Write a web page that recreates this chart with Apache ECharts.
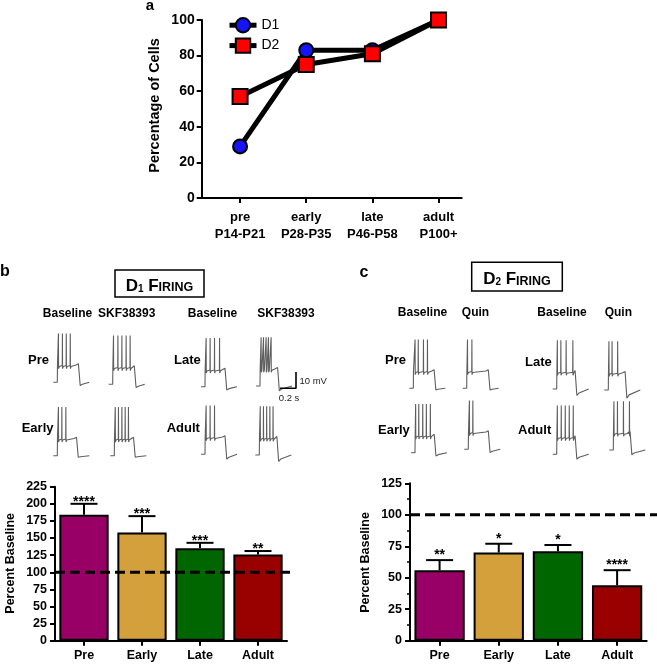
<!DOCTYPE html>
<html><head><meta charset="utf-8">
<script src="https://cdn.jsdelivr.net/npm/echarts@6/dist/echarts.min.js"></script>
<style>html,body{margin:0;padding:0;background:#fff}#c{width:657px;height:664px}</style>
</head><body><div id="c"></div>
<script>
const FONT = '"Liberation Sans", Arial, Helvetica, sans-serif';

// ---------- Panel a data ----------
const ageGroups = ['pre', 'early', 'late', 'adult'];
const ageRanges = ['P14-P21', 'P28-P35', 'P46-P58', 'P100+'];
const ageX = [1, 2, 3, 4];
const d1Percent = [29, 83, 83, 100];
const d2Percent = [57, 75, 81, 100];

// ---------- Panels b / c bar data ----------
const barCategories = ['Pre', 'Early', 'Late', 'Adult'];
const barColors = ['#990066', '#D4A03C', '#006600', '#990000'];
const d1FiringMean = [184, 158, 135, 126];
const d1FiringErrTop = [200, 182, 143, 131];
const d1Stars = ['****', '***', '***', '**'];
const d2FiringMean = [56, 70, 71, 44];
const d2FiringErrTop = [64, 77, 76, 56];
const d2Stars = ['**', '*', '*', '****'];
const baselineLevel = 100;

// ---------- Example traces (spike times in s after current onset) ----------
// D1 order: Pre Baseline, Pre SKF38393, Late Baseline, Late SKF38393, Early Baseline, Early SKF38393, Adult Baseline, Adult SKF38393
const d1SpikeTimes = [
  [0.012, 0.062, 0.11, 0.16],
  [0.008, 0.063, 0.113, 0.166, 0.216],
  [0.012, 0.062, 0.117, 0.18],
  [0.012, 0.042, 0.075, 0.104, 0.137],
  [0.012, 0.055, 0.105],
  [0.01, 0.05, 0.093, 0.134, 0.175],
  [0.012, 0.062, 0.117],
  [0.01, 0.05, 0.09, 0.13, 0.17]
];
const d1StepDur = [0.284, 0.29, 0.27, 0.24, 0.26, 0.26, 0.27, 0.24];
const d1Undershoot = [2, 2, 2, 3, 1, 1, 3, 4];
// D2 order: Pre Baseline, Pre Quin, Late Baseline, Late Quin, Early Baseline, Early Quin, Adult Baseline, Adult Quin
const d2SpikeTimes = [
  [0.02, 0.06, 0.125, 0.175],
  [0.008, 0.063],
  [0.006, 0.05, 0.116, 0.2],
  [0.006, 0.045, 0.115],
  [0.006, 0.045, 0.095, 0.14, 0.19],
  [0.012, 0.055],
  [0.006, 0.055, 0.105, 0.155, 0.205],
  [0.006, 0.05, 0.125, 0.2]
];
const d2StepDur = [0.28, 0.29, 0.25, 0.23, 0.26, 0.27, 0.25, 0.23];
const d2Undershoot = [1, 1, 4, 5, 2, 2, 3, 3];
const scaleBarTime = 0.2;   // s
const scaleBarVolt = 10;    // mV

// ---------- layout (pixels) ----------
const d1Slots = [[57.3,382.3],[112.7,384.3],[205,386.7],[260,386],[57.3,455.7],[114.3,455.7],[205,454.3],[259.3,455]];
const d2Slots = [[413.3,388.3],[466.7,388.3],[556.7,389],[608.3,390],[415,452.7],[468.3,449.3],[556.7,454.3],[613.3,450]];
const PX_PER_S = 80, PX_PER_MV = 1.625;

function buildTrace(spikes, dur, under) {
  const rest = -80, plat = -70, peak = -50, on = 0.05;
  const pts = [[0, rest], [on, rest], [on + 0.002, plat]];
  spikes.forEach(s => {
    const t = on + s;
    pts.push([t, plat + 0.3], [t + 0.002, peak], [t + 0.004, plat - 1.6], [t + 0.012, plat - 0.3]);
  });
  pts.push([on + dur - 0.05, plat + 0.6], [on + dur - 0.02, plat + 1.4], [on + dur - 0.002, plat + 0.8],
           [on + dur + 0.002, rest - under], [on + dur + 0.03, rest - under * 0.6], [0.45, rest]);
  return pts;
}

const grids = [], xAxes = [], yAxes = [], series = [];
function addGrid(g, xa, ya) {
  grids.push(Object.assign({ outerBoundsMode: 'none', containLabel: false }, g));
  const gi = grids.length - 1;
  xAxes.push(Object.assign({ gridIndex: gi }, xa));
  yAxes.push(Object.assign({ gridIndex: gi }, ya));
  return gi;
}
const axisLineS = { show: true, lineStyle: { color: '#000', width: 2 } };
const tickS = { show: true, length: 5, inside: false, lineStyle: { color: '#000', width: 2 } };

// ---- Panel a ----
const ga = addGrid({ left: 201.7, top: 20, width: 260, height: 178 },
  { type: 'value', min: 0.42, max: 4.35, axisLine: axisLineS, splitLine: { show: false },
    axisTick: Object.assign({ customValues: ageX }, tickS),
    axisLabel: { customValues: ageX, margin: 11, color: '#000',
      formatter: v => '{n|' + ageGroups[Math.round(v) - 1] + '}\n{n|' + ageRanges[Math.round(v) - 1] + '}',
      rich: { n: { fontSize: 13, fontWeight: 'bold', lineHeight: 17, fontFamily: FONT, color: '#000' } } } },
  { type: 'value', min: 0, max: 100, interval: 20, axisLine: axisLineS, axisTick: tickS, splitLine: { show: false },
    axisLabel: { fontSize: 14, fontWeight: 'bold', color: '#000', margin: 7, fontFamily: FONT } });
series.push({ name: 'D1', type: 'line', xAxisIndex: ga, yAxisIndex: ga, data: ageX.map((x, i) => [x, d1Percent[i]]),
  symbol: 'circle', symbolSize: 14, lineStyle: { color: '#000', width: 5 },
  itemStyle: { color: '#1414f5', borderColor: '#000', borderWidth: 2 }, z: 3 });
series.push({ name: 'D2', type: 'line', xAxisIndex: ga, yAxisIndex: ga, data: ageX.map((x, i) => [x, d2Percent[i]]),
  symbol: 'rect', symbolSize: 15, lineStyle: { color: '#000', width: 5 },
  itemStyle: { color: '#ff0000', borderColor: '#000', borderWidth: 2 }, z: 4 });

// ---- Bar panels ----
function errRender(stars, lift) {
  return function (params, api) {
    const i = api.value(0);
    const top = api.coord([i, api.value(1)]);
    const err = api.coord([i, api.value(2)]);
    const cap = 13.5;
    return { type: 'group', children: [
      { type: 'line', shape: { x1: top[0], y1: top[1], x2: err[0], y2: err[1] }, style: { stroke: '#000', lineWidth: 2 } },
      { type: 'line', shape: { x1: err[0] - cap, y1: err[1], x2: err[0] + cap, y2: err[1] }, style: { stroke: '#000', lineWidth: 2 } },
      { type: 'text', x: err[0], y: err[1] + lift, style: { text: stars[i], fill: '#000', font: 'bold 14px ' + FONT, align: 'center', verticalAlign: 'bottom' } }
    ] };
  };
}
function dashRender(ext) {
  return function (params, api) {
    const y = api.coord([0, api.value(1)])[1];
    const cs = params.coordSys;
    return { type: 'line', shape: { x1: cs.x, y1: y, x2: cs.x + cs.width + ext, y2: y },
      style: { stroke: '#000', lineWidth: 3, lineDash: [10, 5] } };
  };
}
function barPanel(g, maxV, minor, means, errs, stars, lift, ext) {
  const gi = addGrid(g,
    { type: 'category', data: barCategories, axisLine: axisLineS, axisTick: Object.assign({ alignWithLabel: true }, tickS),
      axisLabel: { fontSize: 12.5, fontWeight: 'bold', color: '#000', margin: 8, fontFamily: FONT } },
    { type: 'value', min: 0, max: maxV, interval: 25, axisLine: axisLineS, axisTick: tickS, splitLine: { show: false },
      minorTick: minor ? { show: true, splitNumber: 2, length: 3, lineStyle: { color: '#000', width: 1.5 } } : { show: false },
      axisLabel: { fontSize: 12.5, fontWeight: 'bold', color: '#000', margin: 8, fontFamily: FONT } });
  series.push({ type: 'bar', xAxisIndex: gi, yAxisIndex: gi, barCategoryGap: '15%',
    data: means.map((v, i) => ({ value: v, itemStyle: { color: barColors[i] } })),
    itemStyle: { borderColor: '#000', borderWidth: 2 }, z: 2 });
  series.push({ type: 'custom', xAxisIndex: gi, yAxisIndex: gi, clip: false, z: 3,
    data: means.map((v, i) => [i, v, errs[i]]), renderItem: errRender(stars, lift) });
  series.push({ type: 'custom', xAxisIndex: gi, yAxisIndex: gi, clip: false, z: 4,
    data: [[0, baselineLevel]], renderItem: dashRender(ext) });
}
barPanel({ left: 55, top: 486.7, width: 232, height: 154 }, 225, false, d1FiringMean, d1FiringErrTop, d1Stars, 5, 6);
barPanel({ left: 410, top: 483.3, width: 236.7, height: 157.4 }, 125, true, d2FiringMean, d2FiringErrTop, d2Stars, 2, 11);

// ---- Traces ----
const hidden = { show: false };
function traceGrid(slot, pts) {
  const gi = addGrid({ left: slot[0] - 0.05 * PX_PER_S, top: slot[1] - 32 * PX_PER_MV, width: 0.45 * PX_PER_S, height: 40 * PX_PER_MV },
    { type: 'value', min: 0, max: 0.45, show: false, splitLine: hidden },
    { type: 'value', min: -88, max: -48, show: false, splitLine: hidden });
  series.push({ type: 'line', xAxisIndex: gi, yAxisIndex: gi, data: pts, showSymbol: false, symbol: 'none', clip: false,
    lineStyle: { color: '#5e5e5e', width: 1.1 } });
}
d1SpikeTimes.forEach((s, i) => traceGrid(d1Slots[i], buildTrace(s, d1StepDur[i], d1Undershoot[i])));
d2SpikeTimes.forEach((s, i) => traceGrid(d2Slots[i], buildTrace(s, d2StepDur[i], d2Undershoot[i])));
// scale bar
const gs = addGrid({ left: 280, top: 388.3 - scaleBarVolt * PX_PER_MV, width: scaleBarTime * PX_PER_S, height: scaleBarVolt * PX_PER_MV },
  { type: 'value', min: 0, max: scaleBarTime, show: false, splitLine: hidden },
  { type: 'value', min: 0, max: scaleBarVolt, show: false, splitLine: hidden });
series.push({ type: 'line', xAxisIndex: gs, yAxisIndex: gs, data: [[0, 0], [scaleBarTime, 0], [scaleBarTime, scaleBarVolt]],
  showSymbol: false, symbol: 'none', clip: false, lineStyle: { color: '#000', width: 1.6 } });

// ---- Text graphics ----
function txt(text, x, y, size, opts) {
  return Object.assign({ type: 'text', x: x, y: y, silent: true,
    style: Object.assign({ text: text, fill: '#000', font: 'bold ' + size + 'px ' + FONT, align: 'center', verticalAlign: 'middle' }, opts || {}) });
}
function vtxt(text, x, y, size) {
  const t = txt(text, x, y, size);
  t.rotation = Math.PI / 2;
  return t;
}
function firingBox(x, y, w, h, sub) {
  return [
    { type: 'rect', shape: { x: x, y: y, width: w, height: h }, style: { fill: 'none', stroke: '#000', lineWidth: 1.5 } },
    { type: 'text', x: x + w / 2, y: y + h / 2 + 1, style: {
      text: '{d|D}{s|' + sub + '}{d| F}{c|IRING}', align: 'center', verticalAlign: 'middle', fill: '#000',
      rich: {
        d: { font: 'bold 17px ' + FONT, lineHeight: 20, verticalAlign: 'bottom', fill: '#000' },
        s: { font: 'bold 10px ' + FONT, lineHeight: 6, verticalAlign: 'bottom', fill: '#000' },
        c: { font: 'bold 12.5px ' + FONT, lineHeight: 17, verticalAlign: 'bottom', fill: '#000' }
      } } }
  ];
}
const graphics = [
  txt('a', 150, 5.5, 15),
  txt('b', 5, 272, 16),
  txt('c', 364, 272.6, 16),
  vtxt('Percentage of Cells', 155, 105.5, 14.5),
  vtxt('Percent Baseline', 10.5, 563.3, 12.5),
  vtxt('Percent Baseline', 366, 562.5, 12.5),
  txt('Baseline', 67.5, 314, 12), txt('SKF38393', 126.7, 314, 12),
  txt('Baseline', 212.5, 314, 12), txt('SKF38393', 286, 314, 12),
  txt('Baseline', 422.5, 313, 12), txt('Quin', 475.5, 313, 12),
  txt('Baseline', 562, 313, 12), txt('Quin', 618.3, 313, 12),
  txt('Pre', 28, 360, 13, { align: 'left' }), txt('Late', 174, 360, 13, { align: 'left' }),
  txt('Early', 21.7, 428, 13, { align: 'left' }), txt('Adult', 166.7, 428, 13, { align: 'left' }),
  txt('Pre', 385, 360, 13, { align: 'left' }), txt('Late', 525, 362, 13, { align: 'left' }),
  txt('Early', 378, 430, 13, { align: 'left' }), txt('Adult', 518, 430, 13, { align: 'left' }),
  txt('10 mV', 299.5, 381, 9.5, { align: 'left', font: '9.5px ' + FONT, fill: '#222' }),
  txt('0.2 s', 289, 398.5, 9.5, { font: '9.5px ' + FONT, fill: '#222' })
].concat(firingBox(115, 270, 89, 27, '1'), firingBox(471.7, 262.3, 90.6, 28.7, '2'));

const chart = echarts.init(document.getElementById('c'), null, { renderer: 'canvas' });
chart.setOption({
  animation: false,
  backgroundColor: '#fff',
  textStyle: { fontFamily: FONT },
  legend: { data: ['D1', 'D2'], orient: 'vertical', left: 222, top: 12, padding: 5, itemWidth: 27, itemHeight: 18, itemGap: 4,
    lineStyle: { width: 5, color: '#000' },
    textStyle: { fontSize: 14, color: '#000', fontFamily: FONT }, selectedMode: false },
  grid: grids, xAxis: xAxes, yAxis: yAxes, series: series, graphic: graphics
});
</script></body></html>
